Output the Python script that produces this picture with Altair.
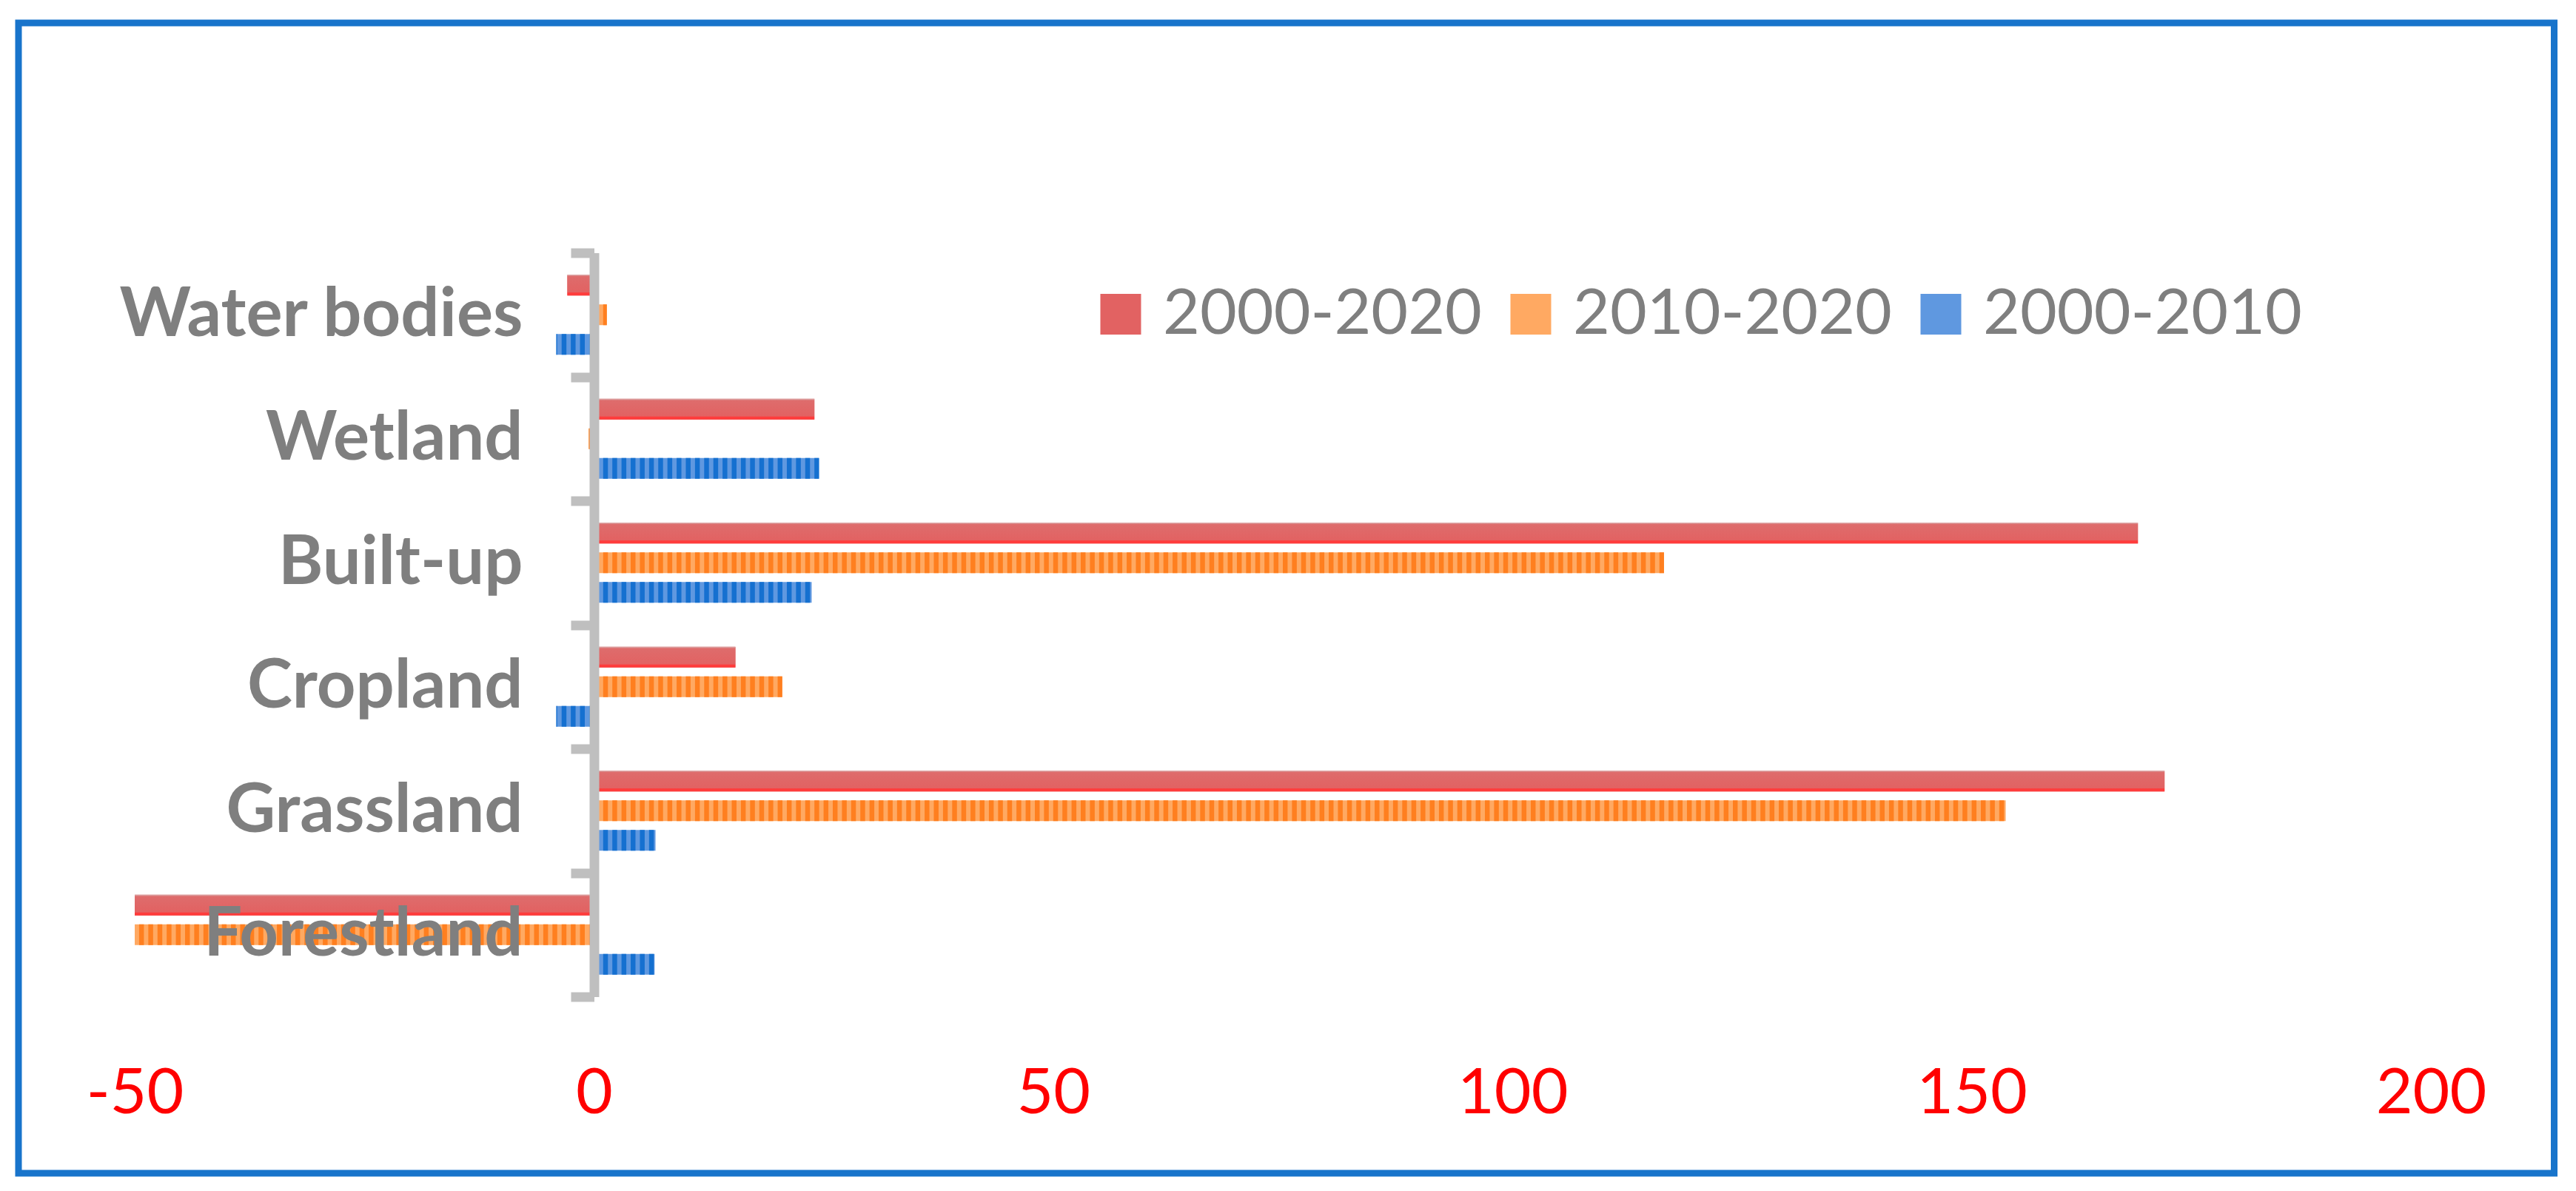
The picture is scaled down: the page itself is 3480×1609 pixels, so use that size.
import altair as alt
import pandas as pd

categories = ["Water bodies", "Wetland", "Built-up", "Cropland", "Grassland", "Forestland"]
series = ["2000-2020", "2010-2020", "2000-2010"]
values_2000_2020 = [-2.9, 24.0, 168.1, 15.4, 171.0, -50.0]
values_2010_2020 = [1.4, -0.6, 116.5, 20.5, 153.7, -50.0]
values_2000_2010 = [-4.1, 24.5, 23.7, -4.1, 6.7, 6.6]
x_ticks = [-50, 0, 50, 100, 150, 200]

all_values = [values_2000_2020, values_2010_2020, values_2000_2010]
rows = []
for s, vals in zip(series, all_values):
    for c, v in zip(categories, vals):
        rows.append({"category": c, "series": s, "value": v})
df = pd.DataFrame(rows)

# stripe segments derived from the striped series' values (one stripe per unit)
def stripes_for(s, vals):
    out = []
    for c, v in zip(categories, vals):
        sign = 1 if v >= 0 else -1
        n = abs(v)
        k = 0.0
        while k < n:
            out.append({"category": c, "series": s,
                        "x0": sign * k, "x1": sign * min(k + 0.52, n)})
            k += 1.0
    return pd.DataFrame(out)

stripes_orange = stripes_for(series[1], values_2010_2020)
stripes_blue = stripes_for(series[2], values_2000_2010)

FONT = "Lato"
xscale = alt.Scale(domain=[-50, 200], nice=False, zero=False)
xaxis = alt.Axis(values=x_ticks, title=None, domain=False, ticks=False, tickSize=0,
                 grid=False, labelColor="#FF0000", labelFont=FONT, labelFontSize=86,
                 labelPadding=89, labelFlush=False, labelOverlap=False,
                 labelExpr="replace(datum.label, '\u2212', '-')")
yaxis = alt.Axis(title=None, offset=-620.5, domainColor="#BFBFBF", domainWidth=13,
                 tickColor="#BFBFBF", tickWidth=13, tickSize=31.5, tickBand="extent",
                 grid=False, labelFont=FONT, labelFontSize=92, labelFontWeight="bold",
                 labelColor="#7F7F7F", labelPadding=65, labelLimit=0, zindex=1)
yscale = alt.Scale(domain=categories, paddingInner=0, paddingOuter=0)
yoffscale = alt.Scale(domain=series, paddingInner=0.3, paddingOuter=0.744)


def yenc():
    return alt.Y("category:N", sort=categories, scale=yscale, axis=yaxis)


def yoffenc():
    return alt.YOffset("series:N", sort=series, scale=yoffscale)


border = alt.Chart(pd.DataFrame({"a": [0]})).mark_rect(
    fillOpacity=0, stroke="#1874CB", strokeWidth=9
).encode(
    x=alt.value(-157), x2=alt.value(3268.5), y=alt.value(-310.5), y2=alt.value(1243.5)
)

base = alt.Chart(df).mark_bar().encode(
    x=alt.X("value:Q", scale=xscale, axis=xaxis),
    y=yenc(),
    yOffset=yoffenc(),
    color=alt.Color(
        "series:N", sort=series,
        scale=alt.Scale(domain=series, range=["#E26262", "#FFA962", "#5F98E0"]),
        legend=alt.Legend(title=None, orient="none", legendX=1289, legendY=40,
                          direction="horizontal", symbolType="square", symbolSize=3025,
                          symbolStrokeWidth=0, labelFont=FONT, labelFontSize=86,
                          labelColor="#7F7F7F", labelOffset=14, columnPadding=23,
                          padding=0, labelLimit=0),
    ),
)

red_grad = alt.LinearGradient(
    gradient="linear", x1=0, x2=0, y1=0, y2=1,
    stops=[
        alt.GradientStop(color="#D9B4B4", offset=0),
        alt.GradientStop(color="#DE6C6C", offset=0.08),
        alt.GradientStop(color="#E26262", offset=0.84),
        alt.GradientStop(color="#FF3C3C", offset=0.87),
        alt.GradientStop(color="#FF3C3C", offset=1),
    ],
)
red = alt.Chart(df).transform_filter(
    alt.datum.series == series[0]
).mark_bar(color=red_grad).encode(
    x=alt.X("value:Q", scale=xscale, axis=xaxis),
    y=yenc(),
    yOffset=yoffenc(),
)

orange_stripes = alt.Chart(stripes_orange).mark_bar(color="#FF7F1F").encode(
    x=alt.X("x0:Q", scale=xscale, axis=xaxis),
    x2="x1:Q",
    y=yenc(),
    yOffset=yoffenc(),
)
blue_stripes = alt.Chart(stripes_blue).mark_bar(color="#1570D0").encode(
    x=alt.X("x0:Q", scale=xscale, axis=xaxis),
    x2="x1:Q",
    y=yenc(),
    yOffset=yoffenc(),
)

chart = alt.layer(border, base, red, orange_stripes, blue_stripes).properties(
    width=3102,
    height=1005,
    autosize=alt.AutoSizeParams(type="none"),
    padding={"left": 174, "top": 333.5, "right": 188, "bottom": 250},
    background="#FFFFFF",
).configure_view(strokeWidth=0)

chart.save("out.html", embed_options={"renderer": "svg", "actions": False})
